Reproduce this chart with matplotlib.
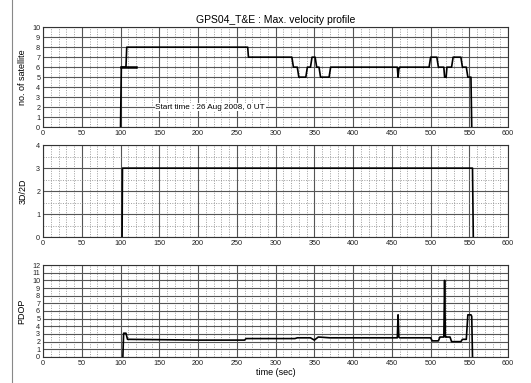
import matplotlib
matplotlib.use("Agg")
import matplotlib.pyplot as plt
from matplotlib.ticker import MultipleLocator
from matplotlib.lines import Line2D

plt.rcParams['font.family'] = ['Liberation Sans', 'DejaVu Sans']

title = "GPS04_T&E : Max. velocity profile"

sat_t = [100, 101, 107, 108, 264, 265, 321, 323, 328, 330, 339, 341, 345, 347, 351, 353, 356, 358, 369, 371, 457, 458, 459, 460, 498, 500, 508, 510, 517, 518, 520, 521, 527, 529, 539, 541, 546, 548, 552, 553]
sat_v = [0, 6, 6, 8, 8, 7, 7, 6, 6, 5, 5, 6, 6, 7, 7, 6, 6, 5, 5, 6, 6, 5, 5.8, 6, 6, 7, 7, 6, 6, 5, 5, 6, 6, 7, 7, 6, 6, 5, 5, 0]

mode_t = [102, 102.5, 554, 555]
mode_v = [0, 3, 3, 0]

pdop_t = [103, 104, 107, 109, 200, 260, 262, 325, 328, 345, 350, 355, 370, 456, 457, 458, 459, 460, 500, 502, 510, 512, 517, 518, 519, 520, 522, 525, 527, 539, 541, 546, 548, 552, 553, 554]
pdop_v = [0, 3.1, 3.1, 2.3, 2.2, 2.2, 2.4, 2.4, 2.5, 2.5, 2.2, 2.6, 2.5, 2.5, 2.5, 5.5, 2.6, 2.5, 2.5, 2.1, 2.1, 2.6, 2.6, 10.0, 2.6, 2.6, 2.6, 2.6, 2.0, 2.0, 2.3, 2.3, 5.5, 5.5, 5.3, 0]

x_ticks = list(range(0, 601, 50))
sat_ticks = list(range(0, 11))
mode_ticks = list(range(0, 5))
pdop_ticks = list(range(0, 13))

fig = plt.figure(figsize=(5.31, 3.83), dpi=100)
fig.patch.set_facecolor('white')

L, W = 0.081, 0.876
ax1 = fig.add_axes([L, 0.668, W, 0.261])
ax2 = fig.add_axes([L, 0.381, W, 0.240])
ax3 = fig.add_axes([L, 0.068, W, 0.240])

def style(ax, yticks, ymax, yminor=None):
    ax.set_xlim(0, 600)
    ax.set_ylim(0, ymax)
    ax.set_xticks(x_ticks)
    ax.set_yticks(yticks)
    ax.xaxis.set_minor_locator(MultipleLocator(10))
    if yminor:
        ax.yaxis.set_minor_locator(MultipleLocator(yminor))
    ax.grid(True, which='major', color='#555555', linewidth=0.8, linestyle='-')
    ax.grid(True, which='minor', color='#808080', linewidth=0.5, linestyle=(0, (1.5, 2)))
    ax.tick_params(which='both', length=0, labelsize=5.2, pad=2, colors='#222222')
    for s in ax.spines.values():
        s.set_color('#333333')
        s.set_linewidth(0.8)
    ax.set_axisbelow(True)

style(ax1, sat_ticks, 10)
style(ax2, mode_ticks, 4, 0.5)
style(ax3, pdop_ticks, 12)

ax1.plot(sat_t, sat_v, color='black', linewidth=1.2)
ax1.plot([100, 120], [6, 6], color='black', linewidth=1.8)
ax2.plot(mode_t, mode_v, color='black', linewidth=1.2)
ax3.plot(pdop_t, pdop_v, color='black', linewidth=1.2)

ax1.set_title(title, fontsize=7.5, pad=3)
ax1.set_ylabel("no. of satellite", fontsize=6.5, labelpad=4)
ax2.set_ylabel("3D/2D", fontsize=6.5, labelpad=6)
ax3.set_ylabel("PDOP", fontsize=6.5, labelpad=4)
ax3.set_xlabel("time (sec)", fontsize=6.5, labelpad=1)

ax1.text(145, 2, "Start time : 26 Aug 2008, 0 UT", fontsize=5.9, va='center', ha='left',
         bbox=dict(facecolor='white', edgecolor='none', pad=0.5))

fig.add_artist(Line2D([0.023, 0.023], [0.0, 1.0], transform=fig.transFigure, color='#888888', linewidth=0.8))

fig.savefig("out.png", dpi=100)
